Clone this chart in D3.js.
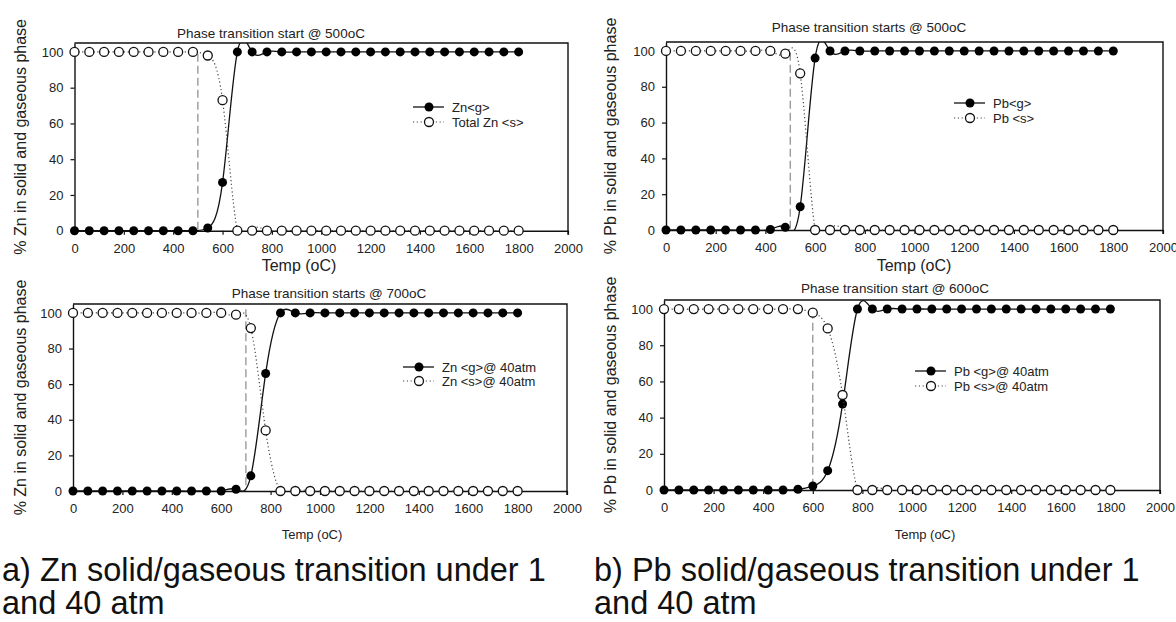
<!DOCTYPE html>
<html>
<head>
<meta charset="utf-8">
<script src="https://cdn.jsdelivr.net/npm/d3@7"></script>
<style>
  body { margin: 0; background: #fff; }
  svg { display: block; font-family: "Liberation Sans", Arial, sans-serif; }
</style>
</head>
<body>
<div id="chart"></div>
<script>
// Temperaturen (oC) – gemeinsame x-Werte aller Reihen
const temps = [0, 60, 120, 180, 240, 300, 360, 420, 480, 540, 600, 660, 720, 780, 840, 900,
  960, 1020, 1080, 1140, 1200, 1260, 1320, 1380, 1440, 1500, 1560, 1620, 1680, 1740, 1800];

// Reihen (% in Phase)
const znGas1 = [0, 0, 0, 0, 0, 0, 0, 0, 0, 1.5, 27, 100, 100, 100, 100, 100,
  100, 100, 100, 100, 100, 100, 100, 100, 100, 100, 100, 100, 100, 100, 100];
const znSolid1 = [100, 100, 100, 100, 100, 100, 100, 100, 100, 98, 73, 0, 0, 0, 0, 0,
  0, 0, 0, 0, 0, 0, 0, 0, 0, 0, 0, 0, 0, 0, 0];
const pbGas1 = [0, 0, 0, 0, 0, 0, 0, 0.3, 1.5, 13, 96, 100, 100, 100, 100, 100,
  100, 100, 100, 100, 100, 100, 100, 100, 100, 100, 100, 100, 100, 100, 100];
const pbSolid1 = [100, 100, 100, 100, 100, 100, 100, 100, 98.5, 87.5, 0, 0, 0, 0, 0, 0,
  0, 0, 0, 0, 0, 0, 0, 0, 0, 0, 0, 0, 0, 0, 0];
const znGas40 = [0, 0, 0, 0, 0, 0, 0, 0, 0, 0, 0, 1, 8.5, 66, 100, 100,
  100, 100, 100, 100, 100, 100, 100, 100, 100, 100, 100, 100, 100, 100, 100];
const znSolid40 = [100, 100, 100, 100, 100, 100, 100, 100, 100, 100, 100, 99, 91.5, 34, 0, 0,
  0, 0, 0, 0, 0, 0, 0, 0, 0, 0, 0, 0, 0, 0, 0];
const pbGas40 = [0, 0, 0, 0, 0, 0, 0, 0, 0, 0.4, 2.2, 10.7, 47.5, 100, 100, 100,
  100, 100, 100, 100, 100, 100, 100, 100, 100, 100, 100, 100, 100, 100, 100];
const pbSolid40 = [100, 100, 100, 100, 100, 100, 100, 100, 100, 100, 98, 89.3, 52.5, 0, 0, 0,
  0, 0, 0, 0, 0, 0, 0, 0, 0, 0, 0, 0, 0, 0, 0];

// Achsen
const xTicks = [0, 200, 400, 600, 800, 1000, 1200, 1400, 1600, 1800, 2000];
const yTicks = [0, 20, 40, 60, 80, 100];

// Texte
const titles = ["Phase transition start @ 500oC", "Phase transition starts @ 500oC",
  "Phase transition starts @ 700oC", "Phase transition start @ 600oC"];
const gasLabels = ["Zn<g>", "Pb<g>", "Zn <g>@ 40atm", "Pb <g>@ 40atm"];
const solidLabels = ["Total Zn <s>", "Pb <s>", "Zn <s>@ 40atm", "Pb <s>@ 40atm"];
const yLabels = ["% Zn in solid and gaseous phase", "% Pb in solid and gaseous phase",
  "% Zn in solid and gaseous phase", "% Pb in solid and gaseous phase"];
const transitionTemps = [500, 500, 700, 600];
const captions = [["a) Zn solid/gaseous transition under 1", "and 40 atm"],
  ["b) Pb solid/gaseous transition under 1", "and 40 atm"]];

const gasSeries = [znGas1, pbGas1, znGas40, pbGas40];
const solidSeries = [znSolid1, pbSolid1, znSolid40, pbSolid40];

// Layout je Panel
const panels = [
  { x0: 74.5, x1: 568, top: 43, bottom: 230.7, titleX: 271, titleY: 38, xlabX: 299, xlabY: 271, xlabSize: 16, legX: 413, legY: 107, legGap: 15, ylabX: 22 },
  { x0: 666, x1: 1163, top: 42, bottom: 230, titleX: 869, titleY: 32, xlabX: 914, xlabY: 271, xlabSize: 16, legX: 954, legY: 103, legGap: 15, ylabX: 612 },
  { x0: 73, x1: 567, top: 304, bottom: 491, titleX: 329, titleY: 298, xlabX: 312, xlabY: 539, xlabSize: 13, legX: 403, legY: 367, legGap: 14, ylabX: 22 },
  { x0: 664, x1: 1160, top: 300, bottom: 490, titleX: 895, titleY: 293, xlabX: 925, xlabY: 539, xlabSize: 13, legX: 915, legY: 371, legGap: 15, ylabX: 612 },
];

const width = 1176, height = 622;
const svg = d3.select("#chart").append("svg")
  .attr("width", width)
  .attr("height", height);

const R = 4.5;

panels.forEach((p, i) => {
  const x = d3.scaleLinear().domain([0, 2000]).range([p.x0, p.x1]);
  const y = d3.scaleLinear().domain([0, 105]).range([p.bottom, p.top]);
  const g = svg.append("g");

  // Clip für Spline-Überschwinger
  const clipId = "clip" + i;
  svg.append("clipPath").attr("id", clipId)
    .append("rect")
    .attr("x", p.x0).attr("y", p.top)
    .attr("width", p.x1 - p.x0).attr("height", p.bottom - p.top + 1);

  // Achsen
  g.append("g")
    .attr("transform", `translate(0,${p.bottom})`)
    .call(d3.axisBottom(x).tickValues(xTicks).tickFormat(d => String(d)).tickSize(4).tickPadding(9).tickSizeOuter(0))
    .call(a => a.select(".domain").attr("stroke", "#111").attr("stroke-width", 1.4))
    .call(a => a.selectAll(".tick line").attr("stroke", "#111").attr("stroke-width", 1.2))
    .call(a => a.selectAll("text").attr("font-size", 13).attr("fill", "#222").attr("font-family", "Liberation Sans, Arial, sans-serif"));

  g.append("g")
    .attr("transform", `translate(${p.x0},0)`)
    .call(d3.axisLeft(y).tickValues(yTicks).tickFormat(d => String(d)).tickSize(4).tickPadding(7).tickSizeOuter(0))
    .call(a => a.select(".domain").attr("stroke", "#111").attr("stroke-width", 1.4))
    .call(a => a.selectAll(".tick line").attr("stroke", "#111").attr("stroke-width", 1.2))
    .call(a => a.selectAll("text").attr("font-size", 13).attr("fill", "#222").attr("font-family", "Liberation Sans, Arial, sans-serif"));

  // Rahmen oben/rechts
  g.append("path")
    .attr("d", `M${p.x0},${p.top}H${p.x1}V${p.bottom + 4}`)
    .attr("fill", "none")
    .attr("stroke", "#111")
    .attr("stroke-width", 1.4);

  // Übergangslinie
  g.append("line")
    .attr("x1", x(transitionTemps[i])).attr("x2", x(transitionTemps[i]))
    .attr("y1", y(i === 2 ? 102 : 99)).attr("y2", y(0))
    .attr("stroke", "#8a8a8a")
    .attr("stroke-width", 1.2)
    .attr("stroke-dasharray", "8,4");

  const line = d3.line().x(d => x(d[0])).y(d => y(d[1])).curve(d3.curveNatural);
  const gas = temps.map((t, j) => [t, gasSeries[i][j]]);
  const solid = temps.map((t, j) => [t, solidSeries[i][j]]);

  g.append("path").datum(gas)
    .attr("d", line)
    .attr("clip-path", `url(#${clipId})`)
    .attr("fill", "none").attr("stroke", "#111").attr("stroke-width", 1.3);

  g.append("g").selectAll("circle").data(gas).join("circle")
    .attr("cx", d => x(d[0])).attr("cy", d => y(d[1])).attr("r", R)
    .attr("fill", "#000");

  g.append("path").datum(solid)
    .attr("d", line)
    .attr("clip-path", `url(#${clipId})`)
    .attr("fill", "none").attr("stroke", "#444").attr("stroke-width", 1.2)
    .attr("stroke-dasharray", "1.2,2.6");

  g.append("g").selectAll("circle").data(solid).join("circle")
    .attr("cx", d => x(d[0])).attr("cy", d => y(d[1])).attr("r", R)
    .attr("fill", "#fff").attr("stroke", "#111").attr("stroke-width", 1.3);

  // Titel
  g.append("text")
    .attr("x", p.titleX).attr("y", p.titleY)
    .attr("text-anchor", "middle")
    .attr("font-size", 13.5).attr("fill", "#222")
    .text(titles[i]);

  // x-Beschriftung
  g.append("text")
    .attr("x", p.xlabX).attr("y", p.xlabY)
    .attr("text-anchor", "middle")
    .attr("font-size", p.xlabSize).attr("fill", "#222")
    .text("Temp (oC)");

  // y-Beschriftung
  g.append("text")
    .attr("transform", `translate(${p.ylabX},${(p.top + p.bottom) / 2}) rotate(-90)`)
    .attr("text-anchor", "middle")
    .attr("dominant-baseline", "middle")
    .attr("font-size", 16).attr("fill", "#222")
    .text(yLabels[i]);

  // Legende
  const leg = g.append("g").attr("transform", `translate(${p.legX},${p.legY})`);
  leg.append("line").attr("x1", 0).attr("x2", 31).attr("y1", 0).attr("y2", 0)
    .attr("stroke", "#111").attr("stroke-width", 1.3);
  leg.append("circle").attr("cx", 16).attr("cy", 0).attr("r", R).attr("fill", "#000");
  leg.append("text").attr("x", 39).attr("y", 0).attr("dy", "0.35em")
    .attr("font-size", 13).attr("fill", "#222").text(gasLabels[i]);

  leg.append("line").attr("x1", 0).attr("x2", 31).attr("y1", p.legGap).attr("y2", p.legGap)
    .attr("stroke", "#444").attr("stroke-width", 1.2).attr("stroke-dasharray", "1.2,2.6");
  leg.append("circle").attr("cx", 16).attr("cy", p.legGap).attr("r", R)
    .attr("fill", "#fff").attr("stroke", "#111").attr("stroke-width", 1.3);
  leg.append("text").attr("x", 39).attr("y", p.legGap).attr("dy", "0.35em")
    .attr("font-size", 13).attr("fill", "#222").text(solidLabels[i]);
});

// Bildunterschriften
const capX = [2, 594];
captions.forEach((c, i) => {
  svg.append("text")
    .attr("x", capX[i]).attr("y", 581)
    .attr("font-size", 32.5).attr("fill", "#111")
    .text(c[0]);
  svg.append("text")
    .attr("x", capX[i]).attr("y", 614)
    .attr("font-size", 32.5).attr("fill", "#111")
    .text(c[1]);
});
</script>
</body>
</html>
